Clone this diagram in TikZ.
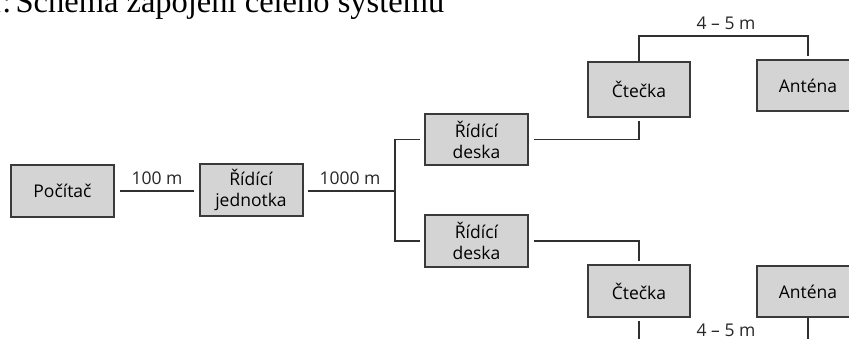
\documentclass[tikz,border=0pt]{standalone}
\usepackage{fontspec}
\setmainfont{Open Sans}
\newfontfamily\titlefont{Liberation Serif}
\definecolor{boxfill}{HTML}{D4D4D4}
\definecolor{boxline}{HTML}{3A3A3A}
\definecolor{wireclr}{HTML}{303030}
\begin{document}
\begin{tikzpicture}[x=1pt,y=-1pt,
  box/.style={draw=boxline, fill=boxfill, line width=2pt, minimum width=103pt,
    minimum height=52pt, inner sep=0pt, align=center,
    font=\fontsize{17.5}{21}\selectfont},
  wire/.style={draw=wireclr, line width=1.5pt},
  lbl/.style={font=\fontsize{17.5}{21}\selectfont, anchor=base, inner sep=0pt, text=black!85}]
\useasboundingbox (0,0) rectangle (849,338);

% caption line, partly outside the page
\node[anchor=base west, inner sep=0pt, font=\titlefont\fontsize{32.5}{36}\selectfont] (title)
  at (-14,12.5) {1:\kern-4pt\ Schéma zapojení celého systému};

% devices
\node[box] (pc) at (62.5,191) {Počítač};
\node[box] (rj) at (251,190) {Řídící\\jednotka};
\node[box, minimum height=51pt] (rd1) at (476.5,139.5) {Řídící\\deska};
\node[box] (rd2) at (476.5,241) {Řídící\\deska};
\node[box, minimum width=102pt, minimum height=55pt] (ct1) at (639,89.5) {Čtečka};
\node[box, minimum width=102pt, minimum height=51pt] (an1) at (808,85.5) {Anténa};
\node[box, minimum width=102pt] (ct2) at (639,291) {Čtečka};
\node[box, minimum width=102pt, minimum height=51pt] (an2) at (808,291.5) {Anténa};

% cable routing points
\coordinate (j) at (395,191);
\coordinate (t1) at (720,36);
\coordinate (t2) at (720,352);

% cables
\draw[wire, shorten <=5pt, shorten >=5pt] (pc.east) -- (pc.east -| rj.west);
\draw[wire, shorten <=4pt] (j -| rj.east) -- (j);
\draw[wire, shorten >=4pt] (j) |- (rd1.west);
\draw[wire, shorten >=4pt] (j) |- (rd2.west);
\draw[wire, shorten <=5pt, shorten >=3pt] (rd1.east) -| (ct1.south);
\draw[wire, shorten <=5pt, shorten >=3pt] (rd2.east) -| (ct2.north);
\draw[wire, shorten >=3pt] (ct1.north) -- (ct1.north |- t1) -| (an1.north);
\draw[wire, shorten <=3pt] (ct2.south) -- (ct2.south |- t2) -| (an2.south);

% cable lengths
\node[lbl] (l100) at (157,184) {100 m};
\node[lbl] (l1000) at (350,184) {1000 m};
\node[lbl] (lt) at (726,29.5) {4 – 5 m};
\node[lbl] (lb) at (726,336) {4 – 5 m};
\end{tikzpicture}
\end{document}
